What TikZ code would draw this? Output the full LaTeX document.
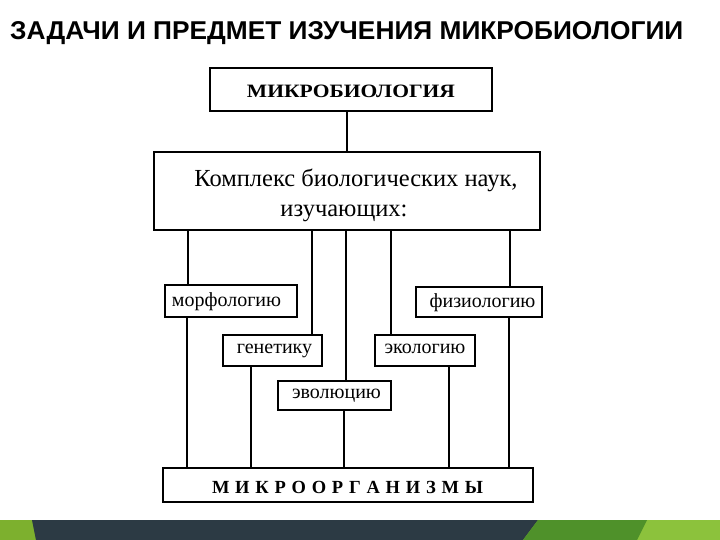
\documentclass[tikz,border=0pt]{standalone}
\usepackage{fontspec}
\setmainfont{Liberation Serif}
\newfontfamily\titlefont{Liberation Sans}
\usepackage{graphicx}
\definecolor{darkband}{HTML}{2C3A44}
\definecolor{midgreen}{HTML}{4F912A}
\definecolor{lightgreen}{HTML}{8CC23C}
\definecolor{leftgreen}{HTML}{7DB02E}
\begin{document}
\begin{tikzpicture}[x=1pt,y=-1pt,
  boxstyle/.style={draw=black, line width=1.3pt, rectangle, inner sep=0pt, align=center},
  smallbox/.style={boxstyle, font=\fontsize{20}{24}\selectfont},
  conn/.style={draw=black, line width=1.1pt}]
\path[use as bounding box] (0,0) rectangle (720,540);
\fill[white] (0,0) rectangle (720,540);

% title
\node[anchor=base west, inner sep=0pt] (title) at (10,40)
  {\resizebox{673pt}{18pt}{\titlefont\bfseries ЗАДАЧИ И ПРЕДМЕТ ИЗУЧЕНИЯ МИКРОБИОЛОГИИ}};

% boxes
\node[boxstyle, minimum width=282pt, minimum height=43pt] (micro) at (351,89.5) {};
\node[anchor=base, inner sep=0pt] (microtxt) at (351,97.5)
  {\resizebox{208pt}{12.5pt}{\bfseries МИКРОБИОЛОГИЯ}};

\node[boxstyle, minimum width=386pt, minimum height=78pt] (complex) at (347,191) {};
\node[anchor=base, inner sep=0pt] (cl1) at (356,187) {\fontsize{24.5}{29}\selectfont Комплекс биологических наук,};
\node[anchor=base, inner sep=0pt] (cl2) at (344,217) {\fontsize{24.5}{29}\selectfont изучающих:};

\node[smallbox, minimum width=132pt, minimum height=32pt] (morph) at (231,301) {};
\node[anchor=base, inner sep=0pt, font=\fontsize{20}{24}\selectfont] at (226.5,306.5) {морфологию};
\node[smallbox, minimum width=126pt, minimum height=30pt] (phys) at (479,302) {};
\node[anchor=base, inner sep=0pt, font=\fontsize{20}{24}\selectfont] at (482.5,307.5) {физиологию};
\node[smallbox, minimum width=99pt, minimum height=31pt] (gen) at (272.5,350.5) {};
\node[anchor=base, inner sep=0pt, font=\fontsize{20}{24}\selectfont] at (274.5,353.5) {генетику};
\node[smallbox, minimum width=100pt, minimum height=31pt] (eco) at (425,350.5) {};
\node[anchor=base, inner sep=0pt, font=\fontsize{20}{24}\selectfont] at (425,353.5) {экологию};
\node[smallbox, minimum width=113pt, minimum height=29pt] (evo) at (334.5,395.5) {};
\node[anchor=base, inner sep=0pt, font=\fontsize{20}{24}\selectfont] at (336.5,398.5) {эволюцию};

\node[boxstyle, minimum width=370pt, minimum height=34pt] (orgs) at (348,485) {};
\node[anchor=base, inner sep=0pt] (orgtxt) at (347.5,493)
  {\makebox[271pt][s]{\fontsize{18.5}{22}\selectfont\bfseries М\hfill И\hfill К\hfill Р\hfill О\hfill О\hfill Р\hfill Г\hfill А\hfill Н\hfill И\hfill З\hfill М\hfill Ы}};

% connectors
\draw[conn] (micro.south) ++(-4,0) coordinate (m1) -- (m1 |- complex.north);
\draw[conn] ([xshift=-43pt]morph.north) -- ([xshift=-43pt]morph.north |- complex.south);
\draw[conn] ([xshift=-44pt]morph.south) -- ([xshift=-44pt]morph.south |- orgs.north);
\draw[conn] ([xshift=39.5pt]gen.north) -- ([xshift=39.5pt]gen.north |- complex.south);
\draw[conn] ([xshift=-21.5pt]gen.south) -- ([xshift=-21.5pt]gen.south |- orgs.north);
\draw[conn] ([xshift=11.5pt]evo.north) -- ([xshift=11.5pt]evo.north |- complex.south);
\draw[conn] ([xshift=9.5pt]evo.south) -- ([xshift=9.5pt]evo.south |- orgs.north);
\draw[conn] ([xshift=-34pt]eco.north) -- ([xshift=-34pt]eco.north |- complex.south);
\draw[conn] ([xshift=24pt]eco.south) -- ([xshift=24pt]eco.south |- orgs.north);
\draw[conn] ([xshift=31pt]phys.north) -- ([xshift=31pt]phys.north |- complex.south);
\draw[conn] ([xshift=30pt]phys.south) -- ([xshift=30pt]phys.south |- orgs.north);

% bottom band
\fill[lightgreen] (0,520) rectangle (720,540);
\fill[leftgreen] (0,520) rectangle (36,540);
\fill[darkband] (32,520) -- (538,520) -- (523,540) -- (36,540) -- cycle;
\fill[midgreen] (538,520) -- (647,520) -- (637,540) -- (523,540) -- cycle;
\end{tikzpicture}
\end{document}
